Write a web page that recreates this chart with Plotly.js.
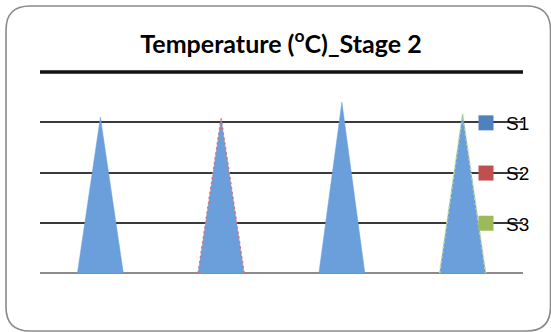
<!DOCTYPE html>
<html>
<head>
<meta charset="utf-8">
<script src="https://cdn.plot.ly/plotly-3.0.1.min.js"></script>
<style>
  html, body { margin: 0; padding: 0; background: #ffffff; }
  #chart { width: 551px; height: 332px; }
</style>
</head>
<body>
<div id="chart"></div>
<script>
// Stage 2 temperature readings per run (°C)
const categories = ['1', '2', '3', '4'];
const s1 = [31.0, 30.7, 34.0, 31.6];
const s2 = [null, 30.7, null, null];
const s3 = [null, null, null, 31.6];
const seriesNames = ['S1', 'S2', 'S3'];
const seriesColors = ['#4f81bd', '#c0504d', '#9bbb59'];
const edgeColors = ['#6a9fdc', '#e46c66', '#c6e07c'];

const HALF = 0.19;   // half width of a cone base, in category units

// Closed triangle outline (base-left, apex, base-right) for every category with a value
function conePolygons(values) {
  const x = [], y = [];
  values.forEach((v, i) => {
    if (v === null) return;
    x.push(i - HALF, i, i + HALF, i - HALF, null);
    y.push(0, v, 0, 0, null);
  });
  return { x, y };
}

// Only the two slanted sides of each cone
function coneEdges(values) {
  const x = [], y = [];
  values.forEach((v, i) => {
    if (v === null) return;
    x.push(i - HALF, i, i + HALF, null);
    y.push(0, v, 0, null);
  });
  return { x, y };
}

const traces = [];

const body = conePolygons(s1);
traces.push({
  type: 'scatter', mode: 'lines', x: body.x, y: body.y,
  fill: 'toself', fillcolor: edgeColors[0],
  line: { width: 0.5, color: edgeColors[0] },
  showlegend: false, hoverinfo: 'skip'
});

[s2, s3].forEach((vals, k) => {
  const e = coneEdges(vals);
  traces.push({
    type: 'scatter', mode: 'lines', x: e.x, y: e.y,
    line: { width: 1.6, color: edgeColors[k + 1], dash: '2px,3px' },
    showlegend: false, hoverinfo: 'skip'
  });
});

// Legend keys
seriesNames.forEach((name, k) => {
  traces.push({
    type: 'scatter', mode: 'markers', x: [null], y: [null],
    name: name, legendgroup: name,
    marker: { symbol: 'square', size: 15, color: seriesColors[k] },
    hoverinfo: 'skip'
  });
});

// Chart frame: rounded rectangle around the whole figure (paper units)
const PX = 483, PY = 201;          // plot area size in pixels
const L = -34 / PX, R = 510.5 / PX, T = 267 / PY, B = -58 / PY;
const rx = 24 / PX, ry = 24 / PY;
const framePath =
  `M ${L + rx},${T} L ${R - rx},${T} Q ${R},${T} ${R},${T - ry} ` +
  `L ${R},${B + ry} Q ${R},${B} ${R - rx},${B} ` +
  `L ${L + rx},${B} Q ${L},${B} ${L},${B + ry} ` +
  `L ${L},${T - ry} Q ${L},${T} ${L + rx},${T} Z`;

const layout = {
  width: 551, height: 332,
  margin: { l: 40, r: 28, t: 72, b: 59, pad: 0 },
  paper_bgcolor: '#ffffff', plot_bgcolor: 'rgba(0,0,0,0)',
  font: { family: 'Lato, "Liberation Sans", sans-serif', color: '#000000' },
  title: {
    text: 'Temperature (<sup>o</sup>C)_Stage 2',
    font: { family: 'Lato, "Liberation Sans", sans-serif', size: 25, weight: 'bold', color: '#000000' },
    xref: 'container', yref: 'container',
    x: 281 / 551, xanchor: 'center',
    y: 1 - 44 / 332, yanchor: 'middle'
  },
  xaxis: {
    type: 'linear', range: [-0.5, 3.5],
    tickvals: categories.map((c, i) => i), ticktext: categories,
    showticklabels: false, ticks: '', showgrid: false, zeroline: false,
    showline: false, fixedrange: true
  },
  yaxis: {
    range: [0, 40], dtick: 10, showticklabels: false, ticks: '',
    showgrid: true, gridcolor: '#3a3a3a', gridwidth: 2,
    zeroline: true, zerolinecolor: '#8c8c8c', zerolinewidth: 2.5,
    showline: false, fixedrange: true
  },
  showlegend: true,
  legend: {
    x: (466 - 40) / PX, xanchor: 'left',
    y: (273 - 104) / PY, yanchor: 'top',
    bgcolor: 'rgba(0,0,0,0)', borderwidth: 0,
    font: { family: '"Liberation Sans", Arial, sans-serif', size: 19, color: '#000000' },
    traceorder: 'grouped', tracegroupgap: 22.5
  },
  shapes: [
    { type: 'line', xref: 'paper', yref: 'paper', x0: 0, x1: 1, y0: 1, y1: 1,
      line: { color: '#111111', width: 3.5 } },
    { type: 'path', xref: 'paper', yref: 'paper', path: framePath,
      line: { color: '#8a8a8a', width: 1.6 }, fillcolor: 'rgba(0,0,0,0)', layer: 'below' }
  ]
};

Plotly.newPlot('chart', traces, layout, { displayModeBar: false, staticPlot: true });
</script>
</body>
</html>
